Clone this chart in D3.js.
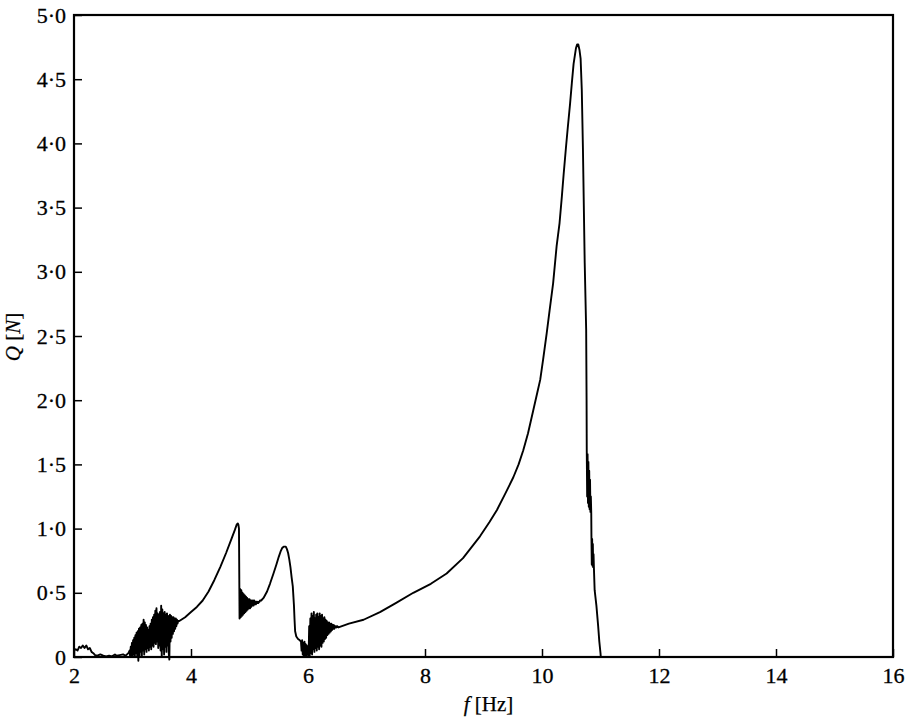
<!DOCTYPE html>
<html>
<head>
<meta charset="utf-8">
<script src="https://cdn.jsdelivr.net/npm/d3@7"></script>
<style>
  body { margin: 0; background: #fff; }
  svg text { font-family: "Liberation Serif", "Times New Roman", serif; fill: #000; }
</style>
</head>
<body>
<svg id="chart" width="909" height="718"></svg>
<script>
// ---- Force amplitude Q [N] versus excitation frequency f [Hz] ----

// Quiet start of the sweep
const lowBandF = [2.00, 2.03, 2.06, 2.09, 2.12, 2.15, 2.18, 2.21, 2.24, 2.27, 2.30, 2.33, 2.36, 2.40, 2.45, 2.50, 2.55, 2.60, 2.65, 2.70, 2.73, 2.78, 2.84, 2.88, 2.93];
const lowBandQ = [0.05, 0.06, 0.05, 0.08, 0.07, 0.09, 0.07, 0.09, 0.06, 0.07, 0.04, 0.03, 0.015, 0.01, 0.02, 0.01, 0.005, 0.01, 0.005, 0.02, 0.01, 0.015, 0.02, 0.01, 0.03];

// Chattering burst, sampled every 0.01 Hz from 2.95 Hz
const burst1Start = 2.95, burst1Step = 0.01;
const burst1Q = [
  0.05, 0.00, 0.08, 0.01, 0.11, 0.00, 0.13, 0.02, 0.15, 0.00,
  0.17, 0.03, 0.19, 0.01, 0.20, -0.03, 0.22, 0.00, 0.23, 0.04,
  0.25, 0.01, 0.26, 0.05, 0.29, 0.02, 0.27, 0.06, 0.25, 0.04,
  0.23, 0.07, 0.21, 0.05, 0.24, 0.08, 0.26, 0.06, 0.29, 0.09,
  0.31, 0.08, 0.33, 0.11, 0.36, 0.10, 0.38, 0.12, 0.34, 0.07,
  0.33, 0.09, 0.35, 0.05, 0.40, 0.00, 0.37, 0.06, 0.34, 0.02,
  0.35, 0.08, 0.33, 0.04, 0.34, 0.09, 0.32, 0.03, -0.02, 0.33,
  0.12, 0.32, 0.15, 0.31, 0.18, 0.31, 0.20, 0.30, 0.22, 0.30,
  0.24, 0.29, 0.26, 0.28
];

// First resonance
const peak1F = [3.80, 3.90, 4.00, 4.10, 4.20, 4.30, 4.40, 4.50, 4.60, 4.70, 4.75, 4.78, 4.80, 4.81, 4.82];
const peak1Q = [0.28, 0.31, 0.35, 0.39, 0.44, 0.51, 0.60, 0.70, 0.81, 0.93, 0.99, 1.03, 1.04, 1.03, 1.00];

// Ringing after the jump-down, every 0.01 Hz from 4.83 Hz
const burst2Start = 4.83, burst2Step = 0.01;
const burst2Q = [
  0.30, 0.53, 0.31, 0.52, 0.32, 0.50, 0.33, 0.49, 0.34, 0.48,
  0.35, 0.47, 0.36, 0.46, 0.37, 0.45, 0.38, 0.45, 0.38, 0.44,
  0.39, 0.44, 0.40, 0.44, 0.40, 0.44, 0.41, 0.43, 0.41, 0.43,
  0.42, 0.43, 0.42, 0.43, 0.43, 0.44
];

// Second resonance
const peak2F = [5.20, 5.24, 5.30, 5.35, 5.41, 5.46, 5.50, 5.53, 5.56, 5.59, 5.62, 5.64, 5.66, 5.68, 5.70, 5.72, 5.74, 5.76, 5.77, 5.78, 5.80, 5.83, 5.86];
const peak2Q = [0.44, 0.46, 0.51, 0.57, 0.65, 0.72, 0.78, 0.82, 0.85, 0.86, 0.86, 0.84, 0.81, 0.76, 0.70, 0.62, 0.55, 0.40, 0.29, 0.20, 0.16, 0.14, 0.13];

// Second chattering burst, every 0.01 Hz from 5.88 Hz
const burst3Start = 5.88, burst3Step = 0.01;
const burst3Q = [
  0.12, 0.05, 0.13, 0.02, 0.11, 0.00, 0.12, 0.01, 0.10, 0.00,
  0.09, 0.02, 0.07, 0.00, 0.24, 0.01, 0.30, 0.03, 0.34, 0.02,
  0.32, 0.06, 0.35, 0.04, 0.30, 0.07, 0.33, 0.05, 0.34, 0.08,
  0.31, 0.06, 0.34, 0.09, 0.32, 0.08, 0.33, 0.11, 0.30, 0.12,
  0.31, 0.14, 0.29, 0.15, 0.28, 0.17, 0.27, 0.18, 0.27, 0.19,
  0.26, 0.20, 0.26, 0.21, 0.25, 0.22, 0.25, 0.22, 0.24, 0.23,
  0.24, 0.23, 0.24
];

// Main resonance
const peak3F = [6.52, 6.70, 6.95, 7.23, 7.50, 7.80, 8.10, 8.37, 8.65, 8.94, 9.10, 9.23, 9.37, 9.51, 9.60, 9.68, 9.76, 9.85, 9.92, 9.97, 10.02, 10.08, 10.13, 10.19, 10.25, 10.30, 10.34, 10.37, 10.41, 10.44, 10.48, 10.51, 10.54, 10.58, 10.60, 10.62, 10.64, 10.66, 10.68, 10.70, 10.73, 10.755, 10.762];
const peak3Q = [0.23, 0.26, 0.29, 0.35, 0.42, 0.50, 0.57, 0.65, 0.77, 0.94, 1.05, 1.145, 1.27, 1.40, 1.50, 1.61, 1.74, 1.92, 2.06, 2.16, 2.32, 2.52, 2.70, 2.91, 3.20, 3.38, 3.59, 3.76, 3.97, 4.12, 4.31, 4.47, 4.62, 4.74, 4.77, 4.77, 4.73, 4.66, 4.42, 3.95, 3.07, 2.55, 2.00];

// Rattling on the way down
const burst4Start = 10.765, burst4Step = 0.007;
const burst4Q = [1.61, 1.25, 1.58, 1.20, 1.52, 1.17, 1.45, 1.15, 1.38, 1.13, 1.25, 1.12];
const burst5Start = 10.845, burst5Step = 0.006;
const burst5Q = [0.94, 0.72, 0.92, 0.71, 0.88, 0.70, 0.80, 0.70];

// Tail back to zero
const tailF = [10.90, 10.93, 10.96, 10.98, 11.00, 11.005];
const tailQ = [0.52, 0.40, 0.24, 0.12, 0.03, 0.00];

// Axis ticks
const xTicks = [2, 4, 6, 8, 10, 12, 14, 16];
const yTicks = [0, 0.5, 1, 1.5, 2, 2.5, 3, 3.5, 4, 4.5, 5];

// ---- assemble the sweep ----
const pairs = (fs, qs) => qs.map((q, i) => [fs[i], q]);
const burst = (f0, df, qs) => qs.map((q, i) => [f0 + i * df, q]);

const sweep = [].concat(
  pairs(lowBandF, lowBandQ),
  burst(burst1Start, burst1Step, burst1Q),
  pairs(peak1F, peak1Q),
  burst(burst2Start, burst2Step, burst2Q),
  pairs(peak2F, peak2Q),
  burst(burst3Start, burst3Step, burst3Q),
  pairs(peak3F, peak3Q),
  burst(burst4Start, burst4Step, burst4Q),
  burst(burst5Start, burst5Step, burst5Q),
  pairs(tailF, tailQ)
);

// ---- layout ----
const W = 909, H = 718;
const margin = { top: 15, right: 16, bottom: 61, left: 74 };
const iw = W - margin.left - margin.right;
const ih = H - margin.top - margin.bottom;

const svg = d3.select("#chart");
const g = svg.append("g").attr("transform", `translate(${margin.left},${margin.top})`);

const x = d3.scaleLinear().domain([2, 16]).range([0, iw]);
const y = d3.scaleLinear().domain([0, 5]).range([ih, 0]);

const fmtY = d => d === 0 ? "0" : d3.format(".1f")(d).replace(".", "\u00B7");

// bottom axis, ticks pointing inward
const xAxis = g.append("g")
  .attr("transform", `translate(0,${ih})`)
  .call(d3.axisBottom(x).tickValues(xTicks).tickSizeInner(-8).tickSizeOuter(0).tickPadding(10).tickFormat(d3.format("d")));
xAxis.select(".domain").remove();
xAxis.selectAll(".tick line").attr("stroke", "#000").attr("stroke-width", 1.5);
xAxis.selectAll(".tick text")
  .style("font-size", "22px")
  .attr("stroke", "#000").attr("stroke-width", 0.3);

// left axis, ticks pointing inward
const yAxis = g.append("g")
  .call(d3.axisLeft(y).tickValues(yTicks).tickSizeInner(-8).tickSizeOuter(0).tickPadding(8).tickFormat(fmtY));
yAxis.select(".domain").remove();
yAxis.selectAll(".tick line").attr("stroke", "#000").attr("stroke-width", 1.5);
yAxis.selectAll(".tick text")
  .style("font-size", "22px")
  .attr("stroke", "#000").attr("stroke-width", 0.3);

// plot frame
g.append("rect")
  .attr("x", 0).attr("y", 0).attr("width", iw).attr("height", ih)
  .attr("fill", "none").attr("stroke", "#000").attr("stroke-width", 2.2);

// response curve
const line = d3.line().x(d => x(d[0])).y(d => y(d[1]));
g.append("path")
  .datum(sweep)
  .attr("d", line)
  .attr("fill", "none")
  .attr("stroke", "#000")
  .attr("stroke-width", 1.9)
  .attr("stroke-linejoin", "round");

// axis titles
const xt = svg.append("text")
  .attr("x", margin.left + iw / 2 + 5)
  .attr("y", 711)
  .attr("text-anchor", "middle")
  .style("font-size", "21px")
  .attr("stroke", "#000").attr("stroke-width", 0.25);
xt.append("tspan").attr("font-style", "italic").text("f");
xt.append("tspan").text(" [Hz]");

const yt = svg.append("text")
  .attr("transform", `translate(20,${margin.top + ih / 2 + 1}) rotate(-90)`)
  .attr("text-anchor", "middle")
  .style("font-size", "21px")
  .attr("stroke", "#000").attr("stroke-width", 0.25);
yt.append("tspan").attr("font-style", "italic").text("Q");
yt.append("tspan").text(" [");
yt.append("tspan").attr("font-style", "italic").text("N");
yt.append("tspan").text("]");
</script>
</body>
</html>
